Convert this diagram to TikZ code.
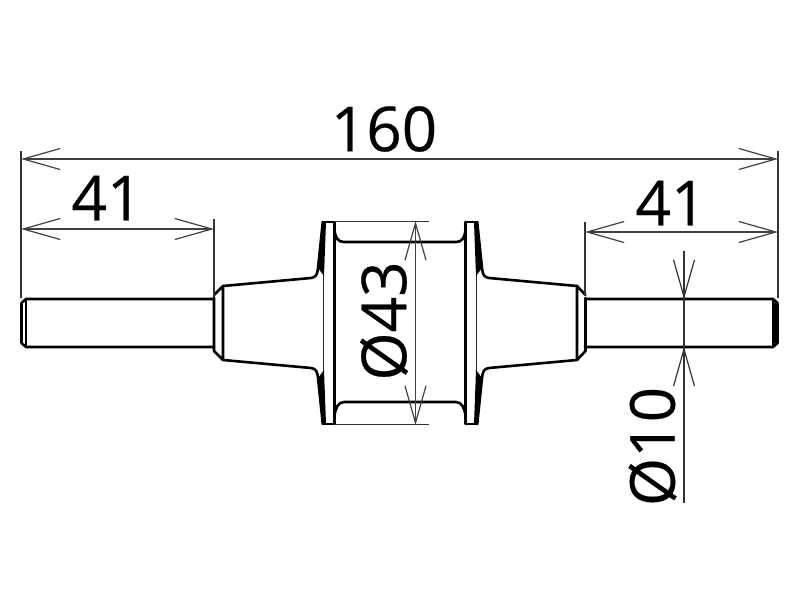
\documentclass[tikz,border=0pt]{standalone}
\usepackage{fontspec}
\setmainfont[FakeBold=0.35]{Open Sans}
\usetikzlibrary{arrows.meta}
\tikzset{
  part/.style={line width=2.6pt,line join=round,line cap=round,black},
  thinpart/.style={line width=1.6pt,black!85},
  dim/.style={line width=1.2pt,black!75,{Straight Barb[length=37pt,width=21pt,line width=1.2pt]}-{Straight Barb[length=37pt,width=21pt,line width=1.2pt]}},
  extl/.style={line width=1.2pt,black!80},
  lbl/.style={font=\fontsize{62}{62}\selectfont,inner sep=0pt,text=black}
}
\begin{document}
\begin{tikzpicture}[x=1pt,y=-1pt]
\useasboundingbox (0,0) rectangle (800,600);
% rods
\draw[part] (214,299) -- (26,299) -- (21.5,303) -- (21.5,343) -- (26,347) -- (214,347);
\draw[part] (26,299) -- (26,347);
\draw[part] (585,299) -- (773,299) -- (777.5,303) -- (777.5,343) -- (773,347) -- (585,347);
\draw[part] (773,299) -- (773,347);
\draw[part] (775.5,303) -- (775.5,343);
% left collar and cone
\draw[part] (214,298) -- (214,351) -- (223,360) -- (223,286) -- (214,295);
\draw[part] (223,286) -- (311,278) .. controls (316,277.5) and (317.5,274) .. (318,268) -- (322.8,222);
\draw[part] (223,360) -- (311,368) .. controls (316,368.5) and (317.5,372) .. (318,378) -- (322.8,424);
% right collar and cone
\draw[part] (585.5,298) -- (585.5,351) -- (577,360) -- (577,286) -- (585.5,295);
\draw[part] (577,286) -- (489,278) .. controls (484,277.5) and (482.5,274) .. (482,268) -- (477.2,222);
\draw[part] (577,360) -- (489,368) .. controls (484,368.5) and (482.5,372) .. (482,378) -- (477.2,424);
% flanges
\draw[part] (322.8,222) -- (334.5,222) -- (334.5,424) -- (322.8,424);
\draw[part] (465.5,222) -- (477.2,222);
\draw[part] (465.5,222) -- (465.5,424) -- (477.2,424);
\draw[thinpart] (323.5,222) -- (323.5,424);
\draw[thinpart] (476.5,222) -- (476.5,424);
\fill[black] (322.8,222) -- (326,222) -- (324,276) -- (318,268) -- cycle;
\fill[black] (322.8,424) -- (326,424) -- (324,370) -- (318,378) -- cycle;
\fill[black] (477.2,222) -- (474,222) -- (476,276) -- (482,268) -- cycle;
\fill[black] (477.2,424) -- (474,424) -- (476,370) -- (482,378) -- cycle;
% body
\draw[part] (334.5,230) .. controls (335.5,238) and (338,242) .. (344,242) -- (456,242) .. controls (462,242) and (464.5,238) .. (465.5,230);
\draw[part] (334.5,416) .. controls (335.5,408) and (338,402) .. (344,402) -- (456,402) .. controls (462,402) and (464.5,408) .. (465.5,416);
% named dimension points
\coordinate (a1) at (21,159);
\coordinate (a2) at (778,159);
\coordinate (b1) at (21,229);
\coordinate (b2) at (214,229);
\coordinate (c1) at (585,232);
\coordinate (c2) at (778,232);
\coordinate (d1) at (415.5,221);
\coordinate (d2) at (415.5,425);
\coordinate (e1) at (684,299);
\coordinate (e2) at (684,347);
% extension lines
\draw[extl] (21,151) -- (21,298);
\draw[extl] (778,151) -- (778,298);
\draw[extl] (214,219) -- (214,297);
\draw[extl] (585,222) -- (585,296);
\draw[extl] (334,221.5) -- (429,221.5);
\draw[extl] (334,424.5) -- (429,424.5);
\draw[extl] (684,251) -- (684,503);
% dimension lines
\draw[dim] (a1) -- (a2);
\draw[dim] (b1) -- (b2);
\draw[dim] (c1) -- (c2);
\draw[dim] (d1) -- (d2);
\draw[extl,-{Straight Barb[length=37pt,width=21pt,line width=1.2pt]}] (684,262) -- (e1);
\draw[extl,-{Straight Barb[length=37pt,width=21pt,line width=1.2pt]}] (684,384) -- (e2);
% labels
\node[lbl] (t160) at (384,129) {160};
\node[lbl] (t41a) at (107,198) {41};
\node[lbl] (t41b) at (671,203) {41};
\node[lbl,rotate=90] (t43) at (384,321) {Ø43};
\node[lbl,rotate=90] (t10) at (652.5,446.5) {Ø10};
\end{tikzpicture}
\end{document}
